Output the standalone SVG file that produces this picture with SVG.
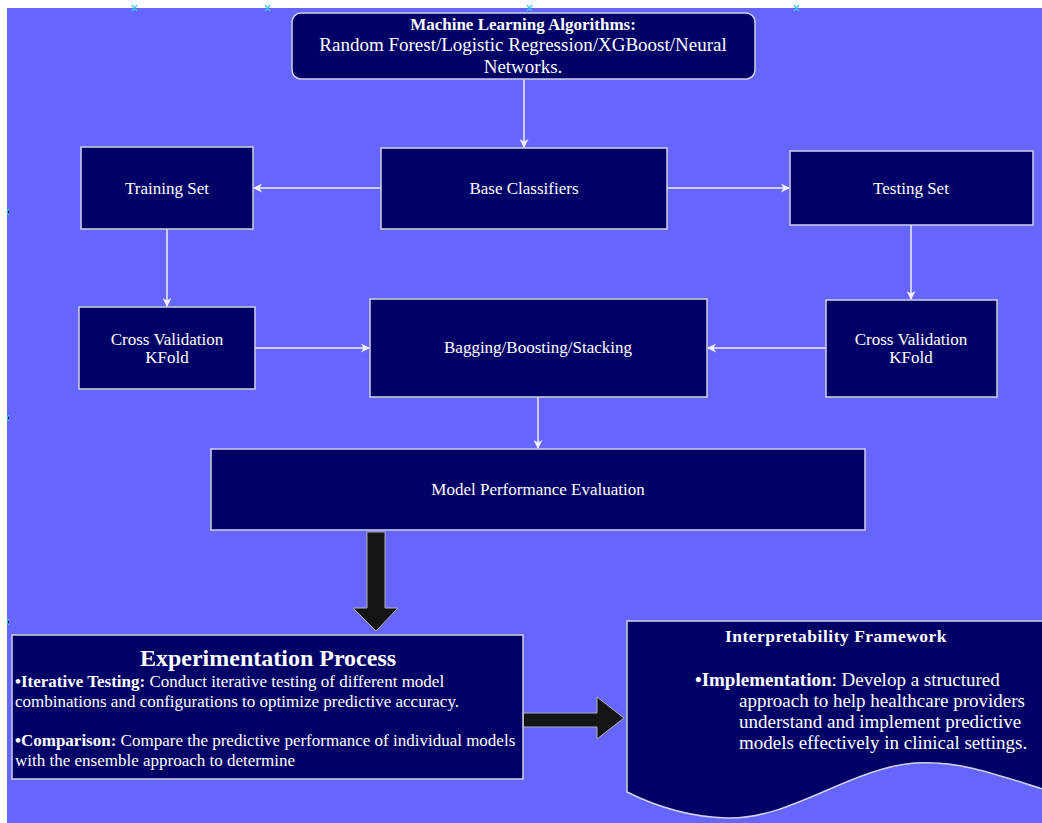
<svg xmlns="http://www.w3.org/2000/svg" width="1042" height="823" viewBox="0 0 1042 823">
<style>
.n{fill:#000066;stroke:#d0d0e8;stroke-width:1.5}
.t{font-family:"Liberation Serif","Times New Roman",serif;fill:#ffffff;font-size:17px}
.c{text-anchor:middle}
.b{font-weight:bold}
.e{stroke:#f0f0ff;stroke-width:1.5;fill:none;marker-end:url(#ah)}
.big{fill:#141414;stroke:#b0b0b0;stroke-width:1}
.h{stroke:#33ccee;stroke-width:1.2}
.ib{font-size:19px}
</style>
<defs>
<marker id="ah" viewBox="0 0 10 10" refX="9" refY="5" markerWidth="9" markerHeight="9" markerUnits="userSpaceOnUse" orient="auto">
<path d="M0,0 L10,5 L0,10 L3,5 Z" fill="#f0f0ff"/>
</marker>
</defs>
<rect x="0" y="0" width="1042" height="823" fill="#ffffff"/>
<rect x="7" y="8" width="1035" height="815" fill="#6666ff"/>
<g id="handles">
<path class="h" d="M132,5 l5,6 M137,5 l-5,6 M265,5 l5,6 M270,5 l-5,6 M527,5 l5,6 M532,5 l-5,6 M794,5 l5,6 M799,5 l-5,6"/>
<path class="h" d="M9,209 l-2,3 l2,3 M9,415 l-2,3 l2,3 M9,619 l-2,3 l2,3"/>
</g>
<g id="connectors">
<line class="e" x1="524" y1="80" x2="524" y2="147"/>
<line class="e" x1="381" y1="188" x2="254" y2="188"/>
<line class="e" x1="667" y1="188" x2="789" y2="188"/>
<line class="e" x1="167" y1="229" x2="167" y2="306"/>
<line class="e" x1="911" y1="225" x2="911" y2="299"/>
<line class="e" x1="255" y1="348" x2="369" y2="348"/>
<line class="e" x1="826" y1="348" x2="708" y2="348"/>
<line class="e" x1="538" y1="397" x2="538" y2="448"/>
<path class="big" d="M367,532 H385 V608 H398 L376,631 L353,608 H367 Z"/>
<path class="big" d="M523,713 H597 V697 L624,718 L597,739 V727 H523 Z"/>
</g>
<g id="ml">
<rect class="n" x="292" y="13" width="463" height="66" rx="9"/>
<text class="t c b" x="523" y="30">Machine Learning Algorithms:</text>
<text class="t c" x="523" y="51" style="font-size:19px">Random Forest/Logistic Regression/XGBoost/Neural</text>
<text class="t c" x="523" y="73" style="font-size:19px">Networks.</text>
</g>
<g id="base">
<rect class="n" x="381" y="148" width="286" height="81"/>
<text class="t c" x="524" y="194">Base Classifiers</text>
</g>
<g id="training">
<rect class="n" x="81" y="147" width="172" height="82"/>
<text class="t c" x="167" y="194">Training Set</text>
</g>
<g id="testing">
<rect class="n" x="790" y="151" width="243" height="74"/>
<text class="t c" x="911" y="194">Testing Set</text>
</g>
<g id="cvleft">
<rect class="n" x="79" y="307" width="176" height="82"/>
<text class="t c" x="167" y="345">Cross Validation</text>
<text class="t c" x="167" y="363">KFold</text>
</g>
<g id="bagging">
<rect class="n" x="370" y="299" width="337" height="98"/>
<text class="t c" x="538" y="353">Bagging/Boosting/Stacking</text>
</g>
<g id="cvright">
<rect class="n" x="826" y="300" width="171" height="97"/>
<text class="t c" x="911" y="345">Cross Validation</text>
<text class="t c" x="911" y="363">KFold</text>
</g>
<g id="evaluation">
<rect class="n" x="211" y="449" width="654" height="81"/>
<text class="t c" x="538" y="495">Model Performance Evaluation</text>
</g>
<g id="experimentation">
<rect class="n" x="12" y="635" width="511" height="144"/>
<text class="t c b" x="268" y="666" style="font-size:24px">Experimentation Process</text>
<text class="t" x="15" y="687"><tspan font-weight="bold">•Iterative Testing:</tspan> Conduct iterative testing of different model</text>
<text class="t" x="15" y="707">combinations and configurations to optimize predictive accuracy.</text>
<text class="t" x="15" y="746"><tspan font-weight="bold">•Comparison:</tspan> Compare the predictive performance of individual models</text>
<text class="t" x="15" y="766">with the ensemble approach to determine</text>
</g>
<g id="interpretability">
<path class="n" d="M627,621 H1046 V790 C1000,776 960,760 915,763 C850,768 790,820 727,818 C690,817 655,806 627,792 Z"/>
<text class="t c b" x="836" y="642" style="font-size:17.5px;letter-spacing:0.5px">Interpretability Framework</text>
<text class="t ib" x="695" y="686" style="font-size:19px"><tspan font-weight="bold">•Implementation</tspan>: Develop a structured</text>
<text class="t" x="739" y="707" style="font-size:19px">approach to help healthcare providers</text>
<text class="t" x="739" y="728" style="font-size:19px">understand and implement predictive</text>
<text class="t" x="739" y="749" style="font-size:19px">models effectively in clinical settings.</text>
</g>
</svg>
